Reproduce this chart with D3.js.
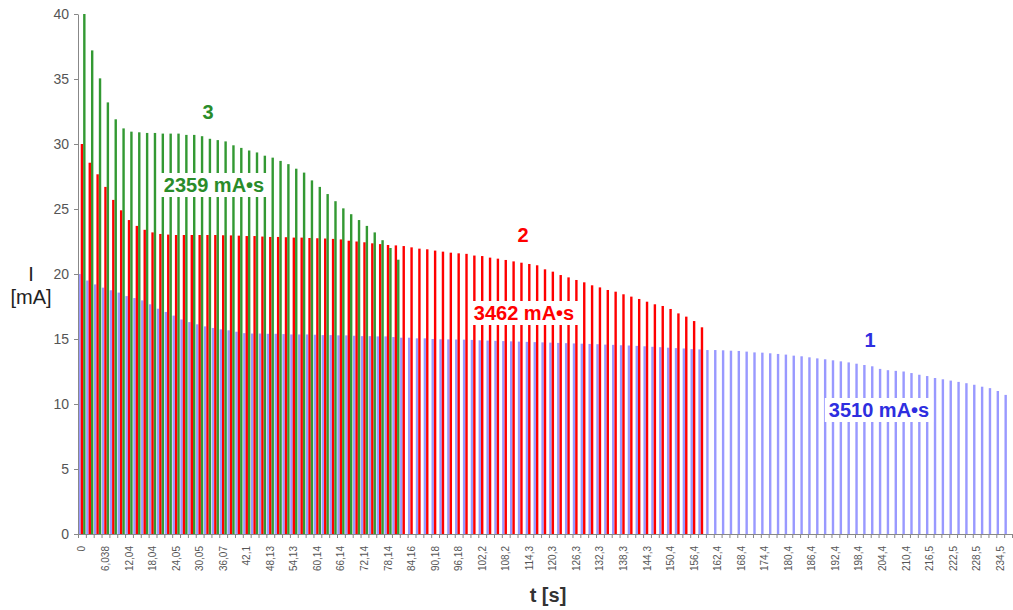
<!DOCTYPE html>
<html><head><meta charset="utf-8">
<script src="https://cdn.jsdelivr.net/npm/d3@7"></script>
<style>
body{margin:0;background:#fff}
svg{display:block}
text{font-family:"Liberation Sans",Arial,sans-serif}
</style>
</head><body>
<svg id="chart" width="1013" height="610"></svg>
<script>
// ---- data ----
const series1 = [20.0,19.5,19.2,18.95,18.75,18.57,18.3,18.15,17.97,17.67,
17.33,17.08,16.8,16.5,16.3,16.13,15.97,15.85,15.74,15.67,
15.56,15.45,15.42,15.42,15.4,15.4,15.38,15.35,15.35,15.35,
15.33,15.3,15.3,15.28,15.28,15.25,15.22,15.22,15.2,15.2,
15.15,15.1,15.1,15.05,15.05,15.0,14.98,14.97,14.96,14.95,
14.93,14.9,14.88,14.86,14.84,14.82,14.8,14.78,14.76,14.74,
14.72,14.7,14.68,14.66,14.64,14.62,14.6,14.57,14.55,14.52,
14.5,14.47,14.44,14.4,14.37,14.33,14.3,14.27,14.22,14.2,
14.15,14.15,14.13,14.1,14.08,14.03,13.97,13.95,13.9,13.85,
13.8,13.72,13.67,13.59,13.51,13.44,13.36,13.28,13.2,13.1,
13.0,12.9,12.7,12.6,12.55,12.5,12.38,12.25,12.15,12.0,
11.9,11.8,11.7,11.6,11.48,11.33,11.22,11.0,10.7];
const series2 = [30.0,28.56,27.67,26.7,25.7,24.9,24.15,23.7,23.4,23.2,
23.08,23.03,23.0,23.0,23.0,23.0,23.0,23.0,22.98,22.97,
22.95,22.92,22.92,22.88,22.85,22.85,22.83,22.8,22.8,22.77,
22.75,22.73,22.7,22.66,22.56,22.5,22.44,22.36,22.3,22.23,
22.2,22.15,22.05,21.95,21.9,21.8,21.72,21.64,21.59,21.55,
21.42,21.38,21.26,21.18,21.08,20.97,20.87,20.77,20.67,20.36,
20.18,19.92,19.74,19.54,19.36,19.13,18.97,18.77,18.64,18.44,
18.26,18.08,17.87,17.67,17.54,17.31,16.97,16.72,16.38,15.9];
const series3 = [40.0,37.2,35.05,33.2,31.9,31.2,30.95,30.9,30.85,30.85,
30.8,30.8,30.8,30.7,30.7,30.6,30.4,30.3,30.2,29.9,
29.7,29.5,29.35,29.1,28.95,28.7,28.45,28.1,27.8,27.2,
26.7,26.15,25.6,25.05,24.6,24.15,23.7,23.2,22.6,22.0,21.1];
const tickLabels = ["0","6,038","12,04","18,04","24,05","30,05","36,07","42,1","48,13","54,13",
"60,14","66,14","72,14","78,14","84,16","90,18","96,18","102,2","108,2","114,3",
"120,3","126,3","132,3","138,3","144,3","150,4","156,4","162,4","168,4","174,4",
"180,4","186,4","192,4","198,4","204,4","210,4","216,5","222,5","228,5","234,5"];
const labelEvery = 3;
const yTicks = [0,5,10,15,20,25,30,35,40];
const seriesNames = ["1","2","3"];
const seriesTotals = ["3510 mA•s","3462 mA•s","2359 mA•s"];
const barColors = ["#9999FF","#FF0000","#339933"];
const textColors = ["#2E2EE0","#FF0000","#2A8C2A"];

// ---- layout ----
const svg = d3.select("#chart");
const mLeft = 78, mRight = 1012, mTop = 14, mBottom = 534;
const nCat = series1.length;
const cats = d3.range(nCat);
const x = d3.scaleBand().domain(cats).range([mLeft, mRight]).paddingInner(0.08).paddingOuter(0.04);
const xs = d3.scaleBand().domain([0,1,2]).range([0, x.bandwidth()]);
const y = d3.scaleLinear().domain([0,40]).range([mBottom, mTop]);
const xEdge = d3.scaleLinear().domain([0,nCat]).range([mLeft,mRight]);

const allSeries = [series1, series2, series3];
allSeries.forEach((s, si) => {
  svg.append("g").selectAll("rect").data(s).join("rect")
    .attr("x", (d,i) => x(i) + xs(si))
    .attr("width", xs.bandwidth())
    .attr("y", d => y(d))
    .attr("height", d => y(0) - y(d))
    .attr("fill", barColors[si]);
});

// y axis
const gy = svg.append("g").attr("transform", `translate(${mLeft},0)`)
  .call(d3.axisLeft(y).tickValues(yTicks).tickSize(4).tickSizeOuter(0).tickPadding(5));
gy.select(".domain").attr("stroke", "#888");
gy.selectAll(".tick line").attr("stroke", "#888");
gy.selectAll(".tick text").attr("font-size", 14).attr("fill", "#555")
  .attr("font-family", '"Liberation Sans",Arial,sans-serif');

// x axis: tick marks at category edges
const gxe = svg.append("g").attr("transform", `translate(0,${mBottom})`)
  .call(d3.axisBottom(xEdge).tickValues(d3.range(nCat+1)).tickFormat("").tickSize(4).tickSizeOuter(0));
gxe.select(".domain").attr("stroke", "#888");
gxe.selectAll(".tick line").attr("stroke", "#888");

// x labels
const labelIdx = tickLabels.map((t,k) => k*labelEvery);
const gx = svg.append("g").attr("transform", `translate(0,${mBottom})`)
  .call(d3.axisBottom(x).tickValues(labelIdx).tickFormat((d) => tickLabels[d/labelEvery]).tickSize(0));
gx.select(".domain").remove();
gx.selectAll(".tick text")
  .attr("transform", "rotate(-90)")
  .attr("x", -12).attr("y", 0).attr("dy", "0.35em")
  .attr("text-anchor", "end")
  .attr("font-size", 10).attr("fill", "#555")
  .attr("font-family", '"Liberation Sans",Arial,sans-serif');

// axis titles
svg.append("text").attr("x", 31).attr("y", 281).attr("text-anchor","middle")
  .attr("font-size", 20).attr("fill","#222").text("I");
svg.append("text").attr("x", 31).attr("y", 304).attr("text-anchor","middle")
  .attr("font-size", 20).attr("fill","#222").text("[mA]");
svg.append("text").attr("x", 548).attr("y", 602).attr("text-anchor","middle")
  .attr("font-size", 20).attr("font-weight","bold").attr("fill","#333").text("t [s]");

// annotations
const namePos = [[870,340],[523,235],[208,112]];
const totalPos = [[879,410],[524,313],[214,185]];
function boxedText(px, py, txt, color, boxed) {
  const g = svg.append("g");
  const r = g.append("rect").attr("fill","#fff");
  const t = g.append("text").attr("x", px).attr("y", py).attr("dy","0.35em")
    .attr("text-anchor","middle").attr("font-size", 20).attr("font-weight","bold")
    .attr("fill", color).text(txt);
  if (boxed) {
    const b = t.node().getBBox();
    r.attr("x", b.x - 4).attr("y", b.y - 1).attr("width", b.width + 8).attr("height", b.height + 2);
  } else r.remove();
}
seriesNames.forEach((n, i) => {
  boxedText(namePos[i][0], namePos[i][1], n, textColors[i], false);
  boxedText(totalPos[i][0], totalPos[i][1], seriesTotals[i], textColors[i], true);
});
</script>
</body></html>
